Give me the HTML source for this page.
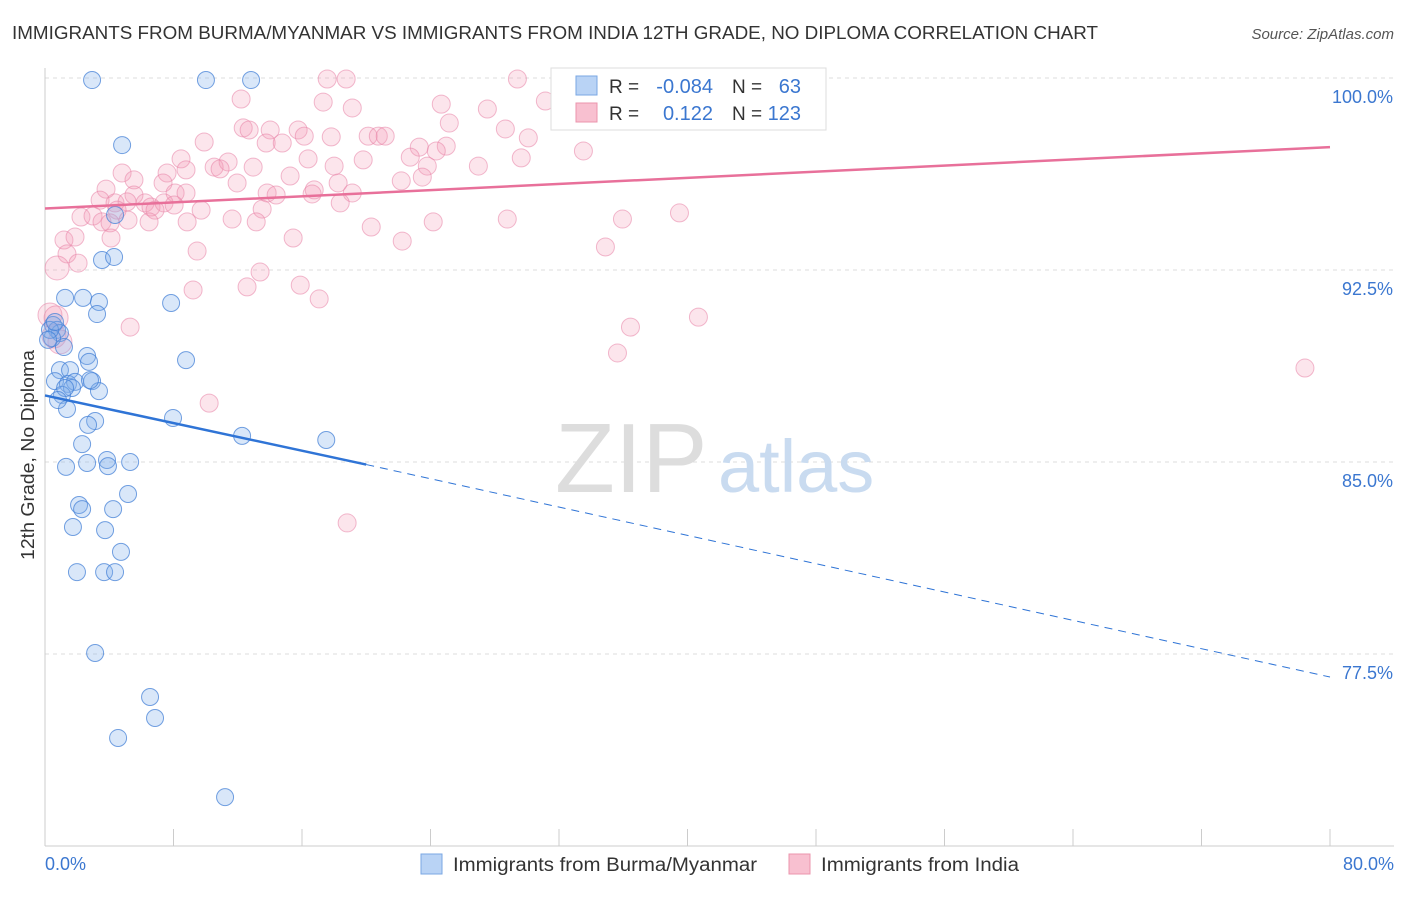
<!DOCTYPE html>
<html><head><meta charset="utf-8"><style>
body{margin:0;background:#fff;font-family:"Liberation Sans",sans-serif;}
svg text{font-family:"Liberation Sans",sans-serif;}
</style></head><body>
<svg id="chart" width="1406" height="892" viewBox="0 0 1406 892" xmlns="http://www.w3.org/2000/svg">
<text x="12" y="39" font-size="18" fill="#333" textLength="1086" lengthAdjust="spacingAndGlyphs">IMMIGRANTS FROM BURMA/MYANMAR VS IMMIGRANTS FROM INDIA 12TH GRADE, NO DIPLOMA CORRELATION CHART</text>
<text x="1394" y="39" font-size="15" fill="#555" text-anchor="end" font-style="italic">Source: ZipAtlas.com</text>
<g id="grid"></g>
<g id="watermark">
<text x="555" y="492" font-size="98" fill="#ddd" font-family="Liberation Serif, serif">ZIP</text>
<text x="718" y="492" font-size="74" fill="#c9dbf0">atlas</text>
</g>
<g id="pts"></g>
<g id="trends"></g>
<text transform="translate(34,455) rotate(-90)" font-size="18" fill="#333" text-anchor="middle" textLength="210" lengthAdjust="spacingAndGlyphs">12th Grade, No Diploma</text>
<g id="legend">
<rect x="551" y="68" width="275" height="62" fill="#fff" stroke="#ddd"/>
<rect x="576" y="76" width="21" height="19" fill="#b9d3f5" stroke="#7aa7e3"/>
<rect x="576" y="103" width="21" height="19" fill="#f8c0d0" stroke="#eb94ad"/>
<text x="609" y="93" font-size="19" fill="#333">R =</text>
<text x="713" y="93" font-size="20" fill="#3b77d0" text-anchor="end">-0.084</text>
<text x="732" y="93" font-size="19" fill="#333">N =</text>
<text x="801" y="93" font-size="20" fill="#3b77d0" text-anchor="end">63</text>
<text x="609" y="120" font-size="19" fill="#333">R =</text>
<text x="713" y="120" font-size="20" fill="#3b77d0" text-anchor="end">0.122</text>
<text x="732" y="120" font-size="19" fill="#333">N =</text>
<text x="801" y="120" font-size="20" fill="#3b77d0" text-anchor="end">123</text>
</g>
<g>
<rect x="421" y="854" width="21" height="20" fill="#b9d3f5" stroke="#7aa7e3"/>
<text x="453" y="871" font-size="19" fill="#333" textLength="304" lengthAdjust="spacingAndGlyphs">Immigrants from Burma/Myanmar</text>
<rect x="789" y="854" width="21" height="20" fill="#f8c0d0" stroke="#eb94ad"/>
<text x="821" y="871" font-size="19" fill="#333" textLength="198" lengthAdjust="spacingAndGlyphs">Immigrants from India</text>
</g>
</svg>
<script>
const xTicksVals=[0,8,16,24,32,40,48,56,64,72,80];
const yTickVals=[100,92.5,85,77.5];
const yTickLabels=["100.0%","92.5%","85.0%","77.5%"];
const xEndLabels=["0.0%","80.0%"];
const blueX=[2.93,10.02,12.83,4.80,4.36,3.55,4.30,1.25,2.37,3.36,3.24,7.85,0.50,0.75,0.93,0.44,1.18,2.62,2.74,8.78,0.93,1.56,0.62,1.43,1.87,2.93,1.68,3.36,1.06,1.37,3.12,2.68,7.97,12.27,17.51,2.31,2.62,1.31,3.86,3.92,5.30,5.17,2.12,2.31,4.24,1.74,3.74,4.73,1.99,3.68,4.36,3.12,6.54,6.85,4.55,11.21,0.31,0.62,0.19,1.25,0.81,2.80];
const blueY=[99.92,99.92,99.92,97.38,94.65,92.89,93.01,91.41,91.41,91.25,90.78,91.21,90.35,90.16,90.04,89.84,89.49,89.14,88.91,88.98,88.59,88.59,88.16,88.05,88.13,88.16,87.89,87.77,87.62,87.07,86.60,86.45,86.72,86.02,85.86,85.70,84.96,84.81,85.08,84.84,85.00,83.75,83.32,83.16,83.16,82.46,82.34,81.49,80.70,80.70,80.70,77.54,75.82,75.00,74.22,71.91,90.16,90.47,89.77,87.89,87.42,88.20];
const pinkX=[17.57,18.75,29.41,12.21,17.32,19.13,24.67,27.54,31.15,32.21,25.17,28.66,30.09,12.34,12.71,14.02,15.76,16.14,17.82,20.12,20.75,21.18,9.91,13.77,14.77,23.30,24.98,24.36,33.52,22.74,8.47,16.38,19.81,18.00,29.65,26.98,23.80,4.80,7.60,10.53,11.40,10.90,12.96,8.78,5.54,7.35,15.26,11.96,18.25,22.18,23.49,3.80,5.54,8.10,8.78,13.83,14.39,16.76,19.13,16.63,3.43,4.36,5.11,6.23,6.60,7.41,8.04,6.85,4.49,18.38,13.52,9.72,2.24,2.99,3.55,4.05,5.17,6.48,8.85,11.65,13.15,20.31,24.17,28.78,35.95,39.50,1.18,1.87,4.11,15.45,22.24,34.89,1.37,2.06,0.75,9.47,13.39,12.58,15.89,9.22,17.07,0.31,0.69,5.30,36.45,40.68,0.56,35.64,10.22,18.81,78.44,0.93];
const pinkY=[99.96,99.96,99.96,99.18,99.06,98.83,98.98,98.79,99.10,98.98,98.24,98.01,97.66,98.05,97.97,97.97,97.97,97.73,97.70,97.73,97.73,97.73,97.50,97.46,97.46,97.30,97.34,97.15,97.15,96.91,96.84,96.84,96.80,96.56,96.88,96.56,96.56,96.29,96.29,96.52,96.72,96.45,96.52,96.41,96.02,95.90,96.17,95.90,95.90,95.98,96.13,95.66,95.43,95.51,95.51,95.51,95.43,95.63,95.51,95.47,95.23,95.12,95.16,95.12,94.96,95.12,95.04,94.84,94.84,95.12,94.88,94.84,94.57,94.61,94.38,94.34,94.45,94.38,94.38,94.49,94.38,94.18,94.38,94.49,94.49,94.73,93.67,93.79,93.75,93.75,93.63,93.40,93.13,92.77,92.58,93.24,92.42,91.84,91.91,91.72,91.37,90.74,90.63,90.27,90.27,90.66,89.92,89.26,87.30,82.62,88.67,89.69];
const blueTrend=[[0,87.6],[20,84.9],[80,76.6]];
const pinkTrend=[[0,94.9],[80,97.3]];

const NS="http://www.w3.org/2000/svg";
const xS=v=>45+v/80*1285;
const yS=v=>78+(100-v)/7.5*192;
function mk(tag,attrs,parent){const e=document.createElementNS(NS,tag);for(const k in attrs)e.setAttribute(k,attrs[k]);parent.appendChild(e);return e;}
const grid=document.getElementById('grid');
yTickVals.forEach((v,i)=>{
  const l=mk('line',{x1:45,x2:1394,y1:yS(v),y2:yS(v),stroke:'#ddd','stroke-dasharray':'4,4'},grid);
  
  
  const t=mk('text',{x:1393,y:yS(v)+25,'font-size':18,fill:'#3b77d0','text-anchor':'end'},grid);
  t.textContent=yTickLabels[i];
  
  
});
mk('line',{x1:45,x2:45,y1:68,y2:846,stroke:'#ccc'},grid);
mk('line',{x1:45,x2:1394,y1:846,y2:846,stroke:'#ccc'},grid);
xTicksVals.forEach(v=>{
  const l=mk('line',{x1:xS(v),x2:xS(v),y1:829,y2:846,stroke:'#ccc'},grid);
  
  
});
[[45,'start',0],[1394,'end',1]].forEach(([x,a,i])=>{
  const t=mk('text',{x:x,y:870,'font-size':18,fill:'#3b77d0','text-anchor':a},grid);
  t.textContent=xEndLabels[i];
  
  
});
const pts=document.getElementById('pts');
pinkX.forEach((x,i)=>{
  const c=mk('circle',{cx:xS(x),cy:yS(pinkY[i]),r:x<1?12:9,fill:'rgba(242,150,180,0.25)',stroke:'rgba(232,130,165,0.55)','stroke-width':1},pts);
  
  
});
blueX.forEach((x,i)=>{
  const c=mk('circle',{cx:xS(x),cy:yS(blueY[i]),r:8.5,fill:'rgba(130,175,235,0.3)',stroke:'rgba(70,130,215,0.75)','stroke-width':1},pts);
  
  
});
const tr=document.getElementById('trends');
const b1=mk('line',{x1:xS(blueTrend[0][0]),y1:yS(blueTrend[0][1]),x2:xS(blueTrend[1][0]),y2:yS(blueTrend[1][1]),stroke:'#2f74d6','stroke-width':2.5},tr);


const b2=mk('line',{x1:xS(blueTrend[1][0]),y1:yS(blueTrend[1][1]),x2:xS(blueTrend[2][0]),y2:yS(blueTrend[2][1]),stroke:'#2f74d6','stroke-width':1,'stroke-dasharray':'8,6'},tr);


const p1=mk('line',{x1:xS(pinkTrend[0][0]),y1:yS(pinkTrend[0][1]),x2:xS(pinkTrend[1][0]),y2:yS(pinkTrend[1][1]),stroke:'#e8709a','stroke-width':2.5},tr);


</script>
</body></html>
